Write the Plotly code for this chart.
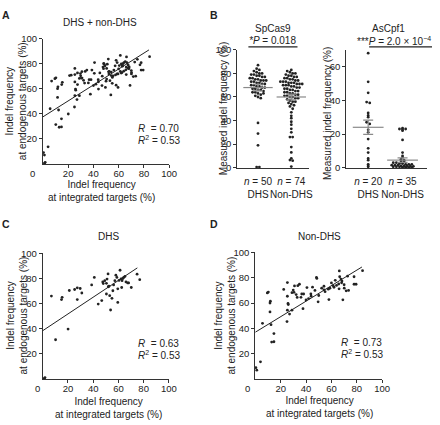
import numpy as np
import plotly.graph_objects as go

# ---------------- data ----------------
# Panel C: DHS targets (integrated %, endogenous %)
dhs_integrated = [6.9, 14.9, 15.4, 20.1, 10.2, 21.1, 25.3, 27.4, 29.7, 27.4, 31, 38.8, 40.9, 44, 46.8,
                  47.6, 49.2, 50.5, 51.8, 51, 52.5, 53.1, 53.8, 50.5, 54.9, 55.6, 56.2, 57.2, 58, 58.8,
                  59.5, 59.5, 61.3, 62.1, 62.9, 62.6, 64.2, 65.2, 66, 67.3, 68.1, 70.2, 74.8, 76.9, 1.3,
                  60.5, 52, 48, 63.5, 1.8]
dhs_endogenous = [66.1, 63.3, 65.1, 39.8, 31.3, 70.5, 71.3, 72.6, 72.1, 63.3, 68.5, 74.9, 80.9, 59.7, 62.5,
                  77.3, 78.3, 76.2, 83.7, 79.6, 73.9, 66.4, 55, 67.7, 64.3, 70.3, 74.9, 78.3, 82.7, 80.9,
                  71.8, 61, 86.6, 79.8, 78.3, 72.9, 80.9, 81.7, 77.3, 76.5, 76.5, 72.9, 83.5, 79.1, 0.5,
                  78.5, 73.5, 76, 80, 1.2]
# Panel D: non-DHS targets
non_integrated = [0.5, 1.2, 4.1, 5.7, 9.5, 10.3, 11.6, 11.9, 11.6, 12.4, 12.9, 14.7, 14.7, 22.4, 25.3,
                  25.3, 25.8, 26, 25, 25.3, 27, 28.9, 28.9, 29.9, 30.9, 32.2, 33.5, 34.8, 36, 36.6,
                  37.6, 38.1, 40.7, 42, 43.8, 45.1, 48.2, 48.5, 49.5, 52.3, 54.1, 54.1, 58, 58.8, 60,
                  61.3, 65.7, 66, 66.2, 66.5, 67.5, 68.3, 69, 70.1, 71.6, 73.5, 72.7, 77.8, 77.8, 79.4,
                  84.5, 62, 64, 55, 50, 47, 40, 44, 33, 68, 70, 30.5, 63, 57.5]
non_endogenous = [9, 7, 13.6, 44, 68, 68.7, 60, 61.5, 53, 43, 29.2, 29.5, 35.9, 70.8, 76.2,
                  65.4, 59.7, 58.8, 45.4, 54.4, 51.3, 54.4, 68.2, 70.3, 73.6, 66.7, 73.8, 74.9, 64.6, 67.2,
                  55.6, 67.2, 72.3, 63.6, 67.2, 72.6, 80.3, 79.5, 61, 71.8, 73.3, 70.5, 62.8, 71.8, 75.9,
                  73.8, 75.1, 71.3, 85.4, 80.8, 79, 77.4, 62.6, 71.8, 69.7, 70, 81.3, 80.8, 74.9, 74.9,
                  85.6, 72.5, 74, 69, 66, 70, 62.5, 65.5, 64.5, 76, 74.5, 68.5, 78, 71]

# regression lines
fitA_x, fitA_y = [0, 84], [37.5, 91]
fitC_x, fitC_y = [0, 75], [38.5, 88.5]
fitD_x, fitD_y = [0, 84], [37, 88.5]
stat_A = ["0.70", "0.53"]
stat_C = ["0.63", "0.53"]
stat_D = ["0.73", "0.53"]

# Panel B
groups = ["DHS", "Non-DHS"]
sp_counts = [50, 74]
cpf_counts = [20, 35]
sp_dhs = [87, 84, 83, 82, 81, 80, 80, 79, 79, 78, 78, 77, 77, 76, 76, 75, 75, 74, 74, 74, 73, 73, 72, 72,
          71, 71, 70, 70, 69, 69, 68, 68, 67, 67, 66, 66, 65, 64, 64, 63, 62, 61, 60, 59, 63,
          38, 29, 19, 0.5, 0.5]
sp_non = [83, 82, 81, 80, 80, 79, 78, 78, 77, 77, 76, 76, 75, 75, 74, 74, 73, 73, 73, 72, 72, 72, 71, 71,
          71, 70, 70, 70, 69, 69, 68, 68, 67, 67, 66, 66, 65, 65, 64, 64, 63, 63, 62, 62, 61, 61, 60, 60,
          59, 59, 58, 57, 56, 56, 55, 54, 52,
          53, 50, 47, 44, 42, 39, 36.5, 33, 30, 26, 26, 17.5, 13, 8, 6.5, 6, 1]
sp_mean = [68, 60]
sp_sem = [2.8, 2.4]
cpf_dhs = [68, 51, 44.5, 39, 38.5, 32.5, 31, 30, 27, 26, 22.5, 21, 17, 11.5, 9, 5.5, 4.5, 2, 1, 0.5]
cpf_non = [23.5, 23, 22.5, 22, 23, 16.5, 9, 7, 6, 5, 4.5, 4, 3.5, 3, 3, 2.5, 2.5, 2, 2, 2,
           1.5, 1.5, 1.5, 1, 1, 1, 1, 0.8, 0.5, 0.5, 0.5, 0.3, 0.3, 0.2, 0.2]
cpf_mean = [24, 4.5]
cpf_sem = [4.2, 1.3]

# ---------------- helpers ----------------
W, H = 440, 425
INK = "#222222"
AX = "#333333"
GREY = "#8a8a8a"
FONT = "Liberation Sans, Arial, sans-serif"


def dom_x(a, b):
    return [a / W, b / W]


def dom_y(top, bottom):
    return [1 - bottom / H, 1 - top / H]


def swarm(vals, binw, step):
    vals = np.asarray(vals, float)
    offs = np.zeros(len(vals))
    bins = np.round(vals / binw).astype(int)
    for b in np.unique(bins):
        idx = np.where(bins == b)[0]
        k = len(idx)
        offs[idx] = (np.arange(k) - (k - 1) / 2) * step
    return offs


annotations = []


def ann(text, x, y, size=10, xanchor="center", angle=0, bold=False, yanchor="middle"):
    if bold:
        text = "<b>" + text + "</b>"
    annotations.append(dict(text=text, x=x / W, y=1 - y / H, xref="paper", yref="paper",
                            showarrow=False, xanchor=xanchor, yanchor=yanchor, textangle=angle,
                            font=dict(size=size, color=INK, family=FONT)))


fig = go.Figure()


def scatter_panel(xs, ys, fx, fy, xa, ya):
    fig.add_trace(go.Scatter(x=fx, y=fy, mode="lines", line=dict(color=INK, width=1),
                             xaxis=xa, yaxis=ya, hoverinfo="skip"))
    fig.add_trace(go.Scatter(x=xs, y=ys, mode="markers", cliponaxis=False,
                             marker=dict(size=2.8, color=INK), xaxis=xa, yaxis=ya))


scatter_panel(dhs_integrated + non_integrated, dhs_endogenous + non_endogenous, fitA_x, fitA_y, "x", "y")
scatter_panel(dhs_integrated, dhs_endogenous, fitC_x, fitC_y, "x4", "y4")
scatter_panel(non_integrated, non_endogenous, fitD_x, fitD_y, "x5", "y5")


def dot_panel(vals_list, means, sems, binw, step, xa, ya, mean_w):
    for i, vals in enumerate(vals_list):
        offs = swarm(vals, binw, step)
        fig.add_trace(go.Scatter(x=i + offs, y=vals, mode="markers", cliponaxis=False,
                                 marker=dict(size=2.8, color=INK), xaxis=xa, yaxis=ya))
    fig.add_trace(go.Scatter(x=[0, 1], y=means, mode="markers", cliponaxis=False,
                             marker=dict(symbol="line-ew", size=mean_w,
                                         line=dict(color=GREY, width=1.2)),
                             error_y=dict(type="data", array=sems, color=GREY, thickness=1.2, width=5),
                             xaxis=xa, yaxis=ya))


dot_panel([sp_dhs, sp_non], sp_mean, sp_sem, 3.0, 0.082, "x2", "y2", 21)
dot_panel([cpf_dhs, cpf_non], cpf_mean, cpf_sem, 1.2, 0.09, "x3", "y3", 22)

base = dict(showline=True, linecolor=AX, linewidth=1, ticks="outside", ticklen=3, tickwidth=1,
            tickcolor=AX, showgrid=False, zeroline=False, fixedrange=True,
            tickfont=dict(size=9.5, color=INK, family=FONT))
ticks5 = [20, 40, 60, 80, 100]

layout_axes = dict(
    xaxis=dict(base, domain=dom_x(43.7, 172.3), range=[0, 100], tickvals=ticks5, anchor="y",
               ticklabelstandoff=-2),
    yaxis=dict(base, domain=dom_y(33.5, 162), range=[0, 100], tickvals=ticks5, anchor="x"),
    xaxis4=dict(base, domain=dom_x(43.5, 172), range=[0, 100], tickvals=ticks5, anchor="y4",
                ticklabelstandoff=-2),
    yaxis4=dict(base, domain=dom_y(254, 383), range=[0, 100], tickvals=ticks5, anchor="x4"),
    xaxis5=dict(base, domain=dom_x(260, 389.3), range=[0, 100], tickvals=ticks5, anchor="y5",
                ticklabelstandoff=-2),
    yaxis5=dict(base, domain=dom_y(253, 383), range=[0, 100], tickvals=ticks5, anchor="x5"),
    xaxis2=dict(base, domain=dom_x(241.7, 315), range=[-0.622, 1.54], tickvals=[0, 1], ticks="",
                tickangle=0, ticklabelstandoff=4, tickfont=dict(size=10, color=INK, family=FONT),
                ticktext=[f"<i>n</i> = {c}<br>{g}" for c, g in zip(sp_counts, groups)], anchor="y2"),
    yaxis2=dict(base, domain=dom_y(45, 166), range=[0, 100], tickvals=[0, 20, 40, 60, 80, 100],
                anchor="x2"),
    xaxis3=dict(base, domain=dom_x(352.7, 435), range=[-0.637, 1.714], tickvals=[0, 1], ticks="",
                tickangle=0, ticklabelstandoff=4, tickfont=dict(size=10, color=INK, family=FONT),
                ticktext=[f"<i>n</i> = {c}<br>{g}" for c, g in zip(cpf_counts, groups)], anchor="y3"),
    yaxis3=dict(base, domain=dom_y(45, 166), range=[0, 70], tickvals=[0, 20, 40, 60], anchor="x3"),
)

# panel letters
ann("A", 6, 9, size=10.5, bold=True)
ann("B", 218, 9, size=10.5, bold=True)
ann("C", 6, 224, size=10.5, bold=True)
ann("D", 218, 224, size=10.5, bold=True)

# titles
ann("DHS + non-DHS", 102, 17)
ann("SpCas9", 278, 23)
ann("<i>*P</i> = 0.018", 278, 35.5)
ann("AsCpf1", 396, 23)
ann("***<i>P</i> = 2.0 × 10<sup>−4</sup>", 362, 35.5, xanchor="left")
ann("DHS", 110, 237)
ann("Non-DHS", 325, 237)

# axis titles
xt = "Indel frequency<br>at integrated targets (%)"
yt = "Indel frequency<br>at endogenous targets (%)"
ann(xt, 103, 190)
ann(xt, 110, 413)
ann(xt, 325, 412)
ann(yt, 17, 98, angle=-90)
ann(yt, 17, 318, angle=-90)
ann(yt, 229, 318, angle=-90)
ann("Measured indel frequency (%)", 227, 105, angle=-90)
ann("Measured indel frequency (%)", 333, 110, angle=-90)

# corner zeros
ann("0", 33, 172, size=9.5)
ann("0", 38, 393, size=9.5)
ann("0", 252, 393, size=9.5)

# R annotations
for (xx, yy), st in zip([(139, 126), (139, 346), (345, 345)], [stat_A, stat_C, stat_D]):
    ann(f"<i>R</i>  = {st[0]}", xx, yy, xanchor="left")
    ann(f"<i>R</i><sup>2</sup> = {st[1]}", xx, yy + 12, xanchor="left")

shapes = [
    dict(type="line", xref="paper", yref="paper", x0=253 / W, x1=303 / W, y0=1 - 42 / H, y1=1 - 42 / H,
         line=dict(color=INK, width=1.2)),
    dict(type="line", xref="paper", yref="paper", x0=376 / W, x1=440 / W, y0=1 - 42 / H, y1=1 - 42 / H,
         line=dict(color=INK, width=1.2)),
]

fig.update_layout(width=W, height=H, margin=dict(l=0, r=0, t=0, b=0), showlegend=False,
                  paper_bgcolor="white", plot_bgcolor="white",
                  font=dict(family=FONT, size=10, color=INK),
                  annotations=annotations, shapes=shapes, **layout_axes)

fig.write_html("out.html", config={"displayModeBar": False},
               post_script="document.body.style.margin='0';document.body.style.overflow='hidden';")
